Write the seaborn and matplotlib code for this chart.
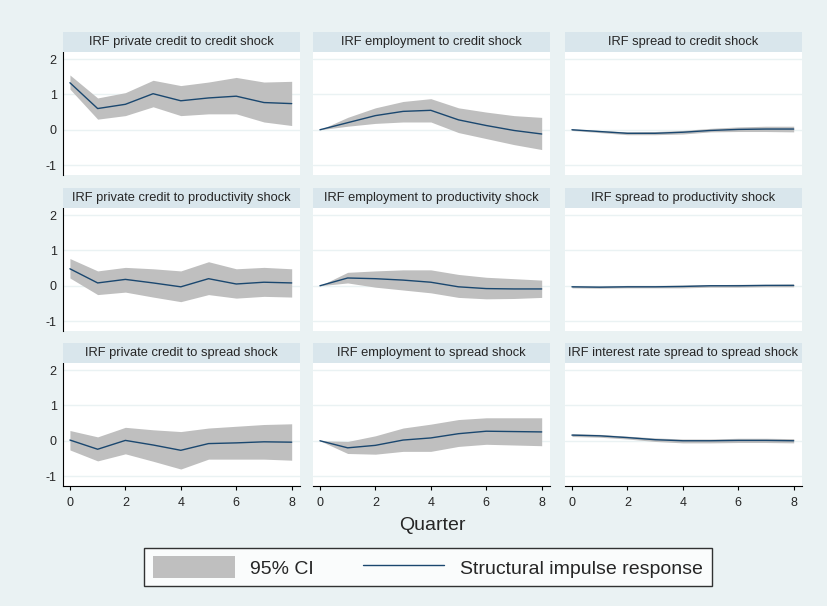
import numpy as np
import pandas as pd
import matplotlib
matplotlib.use("Agg")
import matplotlib.pyplot as plt
import seaborn as sns
from matplotlib.patches import Patch
from matplotlib.lines import Line2D

sns.set_style("white")
plt.rcParams['font.family'] = ['Liberation Sans', 'DejaVu Sans']

quarters = list(range(9))
titles = [
    ["IRF private credit to credit shock", "IRF employment to credit shock", "IRF spread to credit shock"],
    ["IRF private credit to productivity shock", "IRF employment to productivity shock", "IRF spread to productivity shock"],
    ["IRF private credit to spread shock", "IRF employment to spread shock", "IRF interest rate spread to spread shock"],
]

irf = [
    [[1.33, 0.6, 0.72, 1.02, 0.82, 0.9, 0.95, 0.77, 0.74],
     [0, 0.2, 0.4, 0.52, 0.55, 0.28, 0.12, -0.02, -0.12],
     [0, -0.05, -0.1, -0.1, -0.07, -0.02, 0.01, 0.02, 0.02]],
    [[0.48, 0.08, 0.18, 0.08, -0.03, 0.2, 0.05, 0.1, 0.08],
     [0, 0.22, 0.2, 0.16, 0.1, -0.03, -0.08, -0.09, -0.09],
     [-0.03, -0.04, -0.03, -0.03, -0.02, 0, 0, 0.01, 0.01]],
    [[0.02, -0.24, 0.01, -0.12, -0.27, -0.08, -0.06, -0.03, -0.04],
     [0, -0.2, -0.13, 0.02, 0.08, 0.2, 0.27, 0.26, 0.25],
     [0.16, 0.14, 0.09, 0.03, 0, 0, 0.01, 0.01, 0]],
]
ci_low = [
    [[1.15, 0.3, 0.4, 0.65, 0.4, 0.45, 0.45, 0.22, 0.12],
     [0, 0.1, 0.18, 0.22, 0.22, -0.08, -0.25, -0.42, -0.56],
     [-0.02, -0.08, -0.14, -0.14, -0.12, -0.06, -0.05, -0.05, -0.06]],
    [[0.22, -0.25, -0.18, -0.32, -0.45, -0.25, -0.35, -0.3, -0.32],
     [0, 0.08, -0.04, -0.12, -0.2, -0.33, -0.37, -0.36, -0.33],
     [-0.06, -0.07, -0.06, -0.06, -0.06, -0.04, -0.04, -0.03, -0.03]],
    [[-0.26, -0.57, -0.37, -0.58, -0.8, -0.52, -0.52, -0.52, -0.55],
     [0, -0.36, -0.38, -0.3, -0.3, -0.16, -0.1, -0.12, -0.14],
     [0.12, 0.1, 0.05, -0.02, -0.06, -0.06, -0.05, -0.05, -0.06]],
]
ci_high = [
    [[1.55, 0.9, 1.05, 1.4, 1.25, 1.35, 1.48, 1.35, 1.37],
     [0, 0.35, 0.62, 0.8, 0.88, 0.62, 0.5, 0.4, 0.35],
     [0.02, -0.02, -0.06, -0.05, -0.02, 0.04, 0.08, 0.1, 0.1]],
    [[0.77, 0.42, 0.52, 0.48, 0.42, 0.68, 0.48, 0.52, 0.48],
     [0, 0.38, 0.42, 0.45, 0.45, 0.32, 0.24, 0.2, 0.16],
     [0, -0.01, 0.01, 0.01, 0.02, 0.03, 0.04, 0.04, 0.05]],
    [[0.29, 0.11, 0.38, 0.31, 0.26, 0.36, 0.41, 0.46, 0.48],
     [0, -0.02, 0.14, 0.36, 0.47, 0.6, 0.65, 0.65, 0.65],
     [0.2, 0.18, 0.13, 0.08, 0.05, 0.05, 0.07, 0.07, 0.06]],
]

bg = "#eaf2f3"
strip = "#d9e6ec"
line_col = "#1a476f"
ci_col = "#bfbfbf"

W, H = 828, 606
fig = plt.figure(figsize=(W / 100, H / 100), dpi=100, facecolor=bg)

col_left = [63, 313, 565]
row_top = [52, 208, 363]
pw, ph = 237, 123

for r in range(3):
    for c in range(3):
        ax = fig.add_axes([col_left[c] / W, 1 - (row_top[r] + ph) / H, pw / W, ph / H])
        ax.set_facecolor("white")
        df = pd.DataFrame({"q": quarters, "irf": irf[r][c]})
        ax.fill_between(quarters, ci_low[r][c], ci_high[r][c], color=ci_col, lw=0)
        sns.lineplot(data=df, x="q", y="irf", ax=ax, color=line_col, lw=1)
        ax.set_xlim(-0.25, 8.3)
        ax.set_ylim(-1.28, 2.2)
        ax.set_yticks([-1, 0, 1, 2])
        ax.set_xticks([0, 2, 4, 6, 8])
        for y in [-1, 0, 1, 2]:
            ax.axhline(y, color=bg, lw=1, zorder=0)
        ax.set_xlabel("")
        ax.set_ylabel("")
        for s in ax.spines.values():
            s.set_visible(False)
        ax.tick_params(length=3, width=0.8, color="black", labelsize=9, pad=1.5)
        if c == 0:
            ax.spines["left"].set_visible(True)
            ax.spines["left"].set_color("black")
            ax.set_yticklabels(["-1", "0", "1", "2"])
        else:
            ax.tick_params(axis="y", left=False, labelleft=False)
        if r == 2:
            ax.spines["bottom"].set_visible(True)
            ax.spines["bottom"].set_color("black")
            ax.tick_params(axis="x", bottom=True, labelbottom=True, pad=5)
        else:
            ax.tick_params(axis="x", bottom=False, labelbottom=False)
        # title strip
        sax = fig.add_axes([col_left[c] / W, 1 - row_top[r] / H, pw / W, 20 / H])
        sax.set_facecolor(strip)
        sax.set_xticks([])
        sax.set_yticks([])
        for s in sax.spines.values():
            s.set_visible(False)
        sax.text(0.5, 0.5, titles[r][c], ha="center", va="center", fontsize=9.3, transform=sax.transAxes)

fig.text(432 / W, 1 - 525 / H, "Quarter", ha="center", va="center", fontsize=14)

handles = [Patch(facecolor=ci_col, edgecolor="none"), Line2D([], [], color=line_col, lw=1)]
leg = fig.legend(handles, ["95% CI", "Structural impulse response"], loc="center",
                 bbox_to_anchor=(428 / W, 1 - 567 / H), ncol=2, fontsize=14, frameon=True,
                 fancybox=False, edgecolor="black", facecolor="white", handlelength=4.2,
                 handleheight=1.3, columnspacing=2.5, borderpad=0.45)
leg.get_frame().set_linewidth(1)

fig.savefig("out.png", dpi=100, facecolor=bg)
